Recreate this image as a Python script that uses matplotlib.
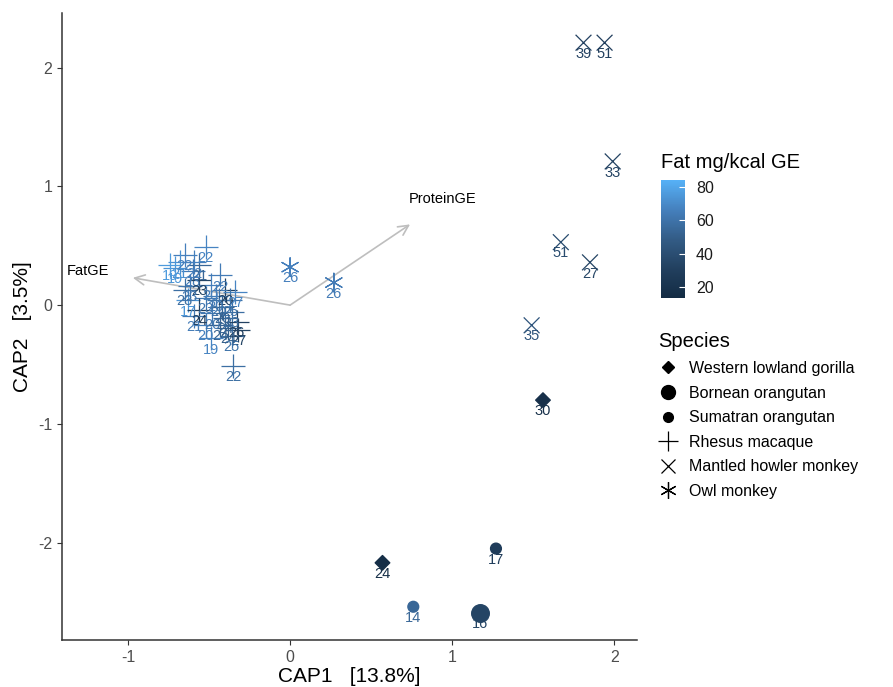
import matplotlib.pyplot as plt
from matplotlib.colors import LinearSegmentedColormap, Normalize
from matplotlib.lines import Line2D
import numpy as np

plt.rcParams['font.family'] = ['Liberation Sans', 'DejaVu Sans']
plt.rcParams['axes.unicode_minus'] = False

# CAP scores per sample: species, CAP1, CAP2, label, fat (mg/kcal GE)
species_order = ['Western lowland gorilla', 'Bornean orangutan', 'Sumatran orangutan',
                 'Rhesus macaque', 'Mantled howler monkey', 'Owl monkey']

gorilla_x = [1.56, 0.57]
gorilla_y = [-0.80, -2.17]
gorilla_lab = ['30', '24']
gorilla_fat = [18, 16]

bornean_x = [1.17]
bornean_y = [-2.59]
bornean_lab = ['16']
bornean_fat = [34]

sumatran_x = [1.27, 0.76]
sumatran_y = [-2.05, -2.54]
sumatran_lab = ['17', '14']
sumatran_fat = [28, 54]

howler_x = [1.81, 1.94, 1.99, 1.67, 1.85, 1.49]
howler_y = [2.21, 2.21, 1.21, 0.53, 0.36, -0.17]
howler_lab = ['39', '51', '33', '51', '27', '35']
howler_fat = [32, 30, 33, 38, 34, 44]

owl_x = [0.00, 0.27]
owl_y = [0.32, 0.19]
owl_lab = ['26', '26']
owl_fat = [66, 64]

rhesus_x = [-0.52, -0.65, -0.68, -0.71, -0.60, -0.56, -0.62, -0.49, -0.40, -0.46,
            -0.52, -0.34, -0.37, -0.63, -0.56, -0.59, -0.48, -0.40, -0.36, -0.33,
            -0.32, -0.52, -0.43, -0.49, -0.36, -0.35, -0.74, -0.43, -0.56, -0.44,
            -0.65, -0.42, -0.38, -0.59]
rhesus_y = [0.49, 0.42, 0.36, 0.31, 0.29, 0.21, 0.16, 0.17, 0.13, 0.08,
            0.06, 0.11, 0.04, 0.04, -0.04, -0.09, -0.07, -0.11, -0.06, -0.14,
            -0.21, -0.17, -0.17, -0.28, -0.26, -0.51, 0.34, 0.25, 0.34, 0.04,
            0.13, -0.02, -0.19, 0.36]
rhesus_lab = ['22', '22', '21', '19', '23', '23', '23', '20', '20', '20',
              '23', '27', '25', '17', '24', '21', '20', '24', '23', '26',
              '27', '20', '24', '19', '25', '22', '19', '22', '21', '20',
              '23', '20', '24', '22']
rhesus_fat = [68, 66, 72, 74, 64, 34, 62, 66, 32, 64,
              62, 68, 60, 74, 30, 64, 62, 54, 58, 32,
              34, 66, 52, 68, 60, 58, 76, 64, 54, 60,
              58, 52, 50, 66]

# biplot arrows
arrow_names = ['FatGE', 'ProteinGE']
arrow_x = [-0.97, 0.74]
arrow_y = [0.23, 0.68]
arrow_lab_x = [-1.25, 0.94]
arrow_lab_y = [0.29, 0.89]

# ggplot-like dark-to-light blue gradient
cmap = LinearSegmentedColormap.from_list(
    'gg', ['#132B43', '#22405F', '#335C86', '#4580BD', '#56B1F7'])
norm = Normalize(vmin=13.5, vmax=84)

fig = plt.figure(figsize=(8.93, 6.87), dpi=100)
ax = fig.add_axes([62 / 893, 47 / 687, 575 / 893, 627 / 687])

for nx, ny, lx, ly, name in zip(arrow_x, arrow_y, arrow_lab_x, arrow_lab_y, arrow_names):
    ax.annotate('', xy=(nx, ny), xytext=(0, 0),
                arrowprops=dict(arrowstyle='->', color='#BEBEBE', lw=1.2,
                                mutation_scale=18, shrinkA=0, shrinkB=0))
    ax.text(lx, ly, name, fontsize=10.5, ha='center', va='center', color='black')

groups = [
    (gorilla_x, gorilla_y, gorilla_lab, gorilla_fat, 'D', 55, 1),
    (bornean_x, bornean_y, bornean_lab, bornean_fat, 'o', 160, 1),
    (sumatran_x, sumatran_y, sumatran_lab, sumatran_fat, 'o', 60, 1),
    (rhesus_x, rhesus_y, rhesus_lab, rhesus_fat, '+', 300, 0.9),
    (howler_x, howler_y, howler_lab, howler_fat, 'x', 130, 0.9),
    (owl_x, owl_y, owl_lab, owl_fat, (6, 2, 0), 180, 0.9),
]

for xs, ys, labs, fats, mk, sz, lw in groups:
    cols = cmap(norm(np.array(fats)))
    ax.scatter(xs, ys, c=cols, marker=mk, s=sz, linewidths=lw, zorder=3)
    for x, y, lab, c in zip(xs, ys, labs, cols):
        ax.annotate(lab, (x, y), xytext=(0, -3), textcoords='offset points',
                    ha='center', va='top', fontsize=10.5, color=c, zorder=4)

ax.set_xlim(-1.407, 2.14)
ax.set_ylim(-2.82, 2.46)
ax.set_xticks([-1, 0, 1, 2])
ax.set_yticks([-2, -1, 0, 1, 2])
ax.spines['top'].set_visible(False)
ax.spines['right'].set_visible(False)
for s in ['left', 'bottom']:
    ax.spines[s].set_color('#333333')
    ax.spines[s].set_linewidth(1.1)
ax.tick_params(colors='#333333', labelcolor='#4D4D4D', labelsize=11.5, length=3.5)
ax.set_xlabel('CAP1   [13.8%]', fontsize=15, labelpad=2)
ax.set_ylabel('CAP2   [3.5%]', fontsize=15, labelpad=4)

# colourbar legend
cax = fig.add_axes([661 / 893, 1 - 298 / 687, 24 / 893, 118 / 687])
sm = plt.cm.ScalarMappable(norm=norm, cmap=cmap)
cb = fig.colorbar(sm, cax=cax, ticks=[20, 40, 60, 80])
cb.outline.set_visible(False)
cax.tick_params(direction='in', color='white', labelcolor='#1a1a1a',
                length=4, width=0.8, labelsize=11.5, pad=8)
fig.text(661 / 893, 1 - 163 / 687, 'Fat mg/kcal GE', fontsize=14.5, va='center', ha='left')

# species legend
handles = [
    Line2D([], [], ls='', marker='D', ms=6.5, color='black'),
    Line2D([], [], ls='', marker='o', ms=10, color='black'),
    Line2D([], [], ls='', marker='o', ms=7, color='black'),
    Line2D([], [], ls='', marker='+', ms=14, mew=0.9, color='black'),
    Line2D([], [], ls='', marker='x', ms=10, mew=0.9, color='black'),
    Line2D([], [], ls='', marker=(6, 2, 0), ms=12, mew=0.9, color='black'),
]
leg = fig.legend(handles, species_order, title='Species', loc='upper left',
                 bbox_to_anchor=(652 / 893, 1 - 326 / 687), frameon=False,
                 fontsize=11.5, title_fontsize=14.5, alignment='left',
                 handlelength=1.2, handletextpad=0.7, labelspacing=0.6,
                 borderaxespad=0)

fig.savefig('out.png', dpi=100)
